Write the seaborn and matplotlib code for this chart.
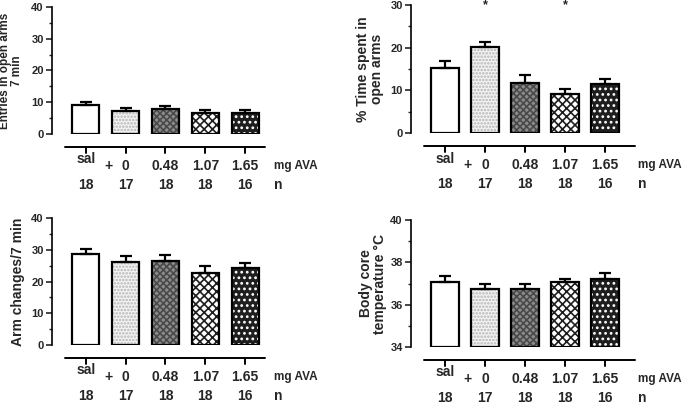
import numpy as np
import pandas as pd
import matplotlib
matplotlib.use('Agg')
import matplotlib.pyplot as plt
import matplotlib.transforms as mtransforms
from matplotlib.lines import Line2D
import seaborn as sns

# data (mean and upper SEM)
dose_labels = ['sal', '0', '0.48', '1.07', '1.65']
n_labels = ['18', '17', '18', '18', '16']

entries_mean = [9.1, 7.3, 7.8, 6.7, 6.5]
entries_sem = [1.1, 1.0, 1.1, 0.75, 0.9]

time_mean = [15.2, 20.2, 11.8, 9.1, 11.5]
time_sem = [1.7, 1.2, 1.8, 1.2, 1.2]
time_sig = [False, True, False, True, False]

arm_mean = [28.6, 26.0, 26.4, 22.8, 24.2]
arm_sem = [1.8, 2.0, 2.1, 2.1, 1.7]

temp_mean = [37.08, 36.72, 36.72, 37.07, 37.21]
temp_sem = [0.27, 0.26, 0.26, 0.13, 0.27]

# bar styles
face_colors = ['white', '#f3f3f3', '#8c8c8c', 'white', '#1e1e1e']
hatch_colors = ['white', '#b5b5b5', '#4a4a4a', '#1e1e1e', 'white']
hatches = ['', '.....', 'xxxxx', 'xxxx', '...']

sns.set_theme(style="ticks")
plt.rcParams['font.family'] = ['Liberation Sans', 'DejaVu Sans']
plt.rcParams['font.weight'] = 'bold'
plt.rcParams['hatch.linewidth'] = 1.2


def draw_panel(fig, rect, means, sems, ylim, yticks, minor, ylabel, label_x, label_size,
               xmax, unit_x, stars=None):
    ax = fig.add_axes(rect)
    df = pd.DataFrame({'dose': dose_labels, 'value': means})
    sns.barplot(data=df, x='dose', y='value', hue='dose', palette=face_colors,
                legend=False, errorbar=None, width=0.68, ax=ax)
    for p, hc, h in zip(ax.patches, hatch_colors, hatches):
        if ylim[0] > 0:
            p.set_y(ylim[0])
            p.set_height(p.get_height() - ylim[0])
        p.set_edgecolor(hc)
        p.set_linewidth(0)
        p.set_hatch(h)
        ax.add_patch(plt.Rectangle(p.get_xy(), p.get_width(), p.get_height(),
                                   fill=False, ec='black', lw=1.6, zorder=3))
    ax.errorbar(range(len(means)), means, yerr=[np.zeros(len(sems)), sems],
                fmt='none', ecolor='black', elinewidth=1.6, capsize=4.5, capthick=1.6, zorder=2)
    if stars is not None:
        for i, s in enumerate(stars):
            if s:
                ax.text(i, 1.0, '*', transform=ax.get_xaxis_transform(),
                        ha='center', va='center', fontsize=9)

    ax.set_xlim(-0.85, xmax)
    ax.set_ylim(*ylim)
    ax.set_yticks(yticks)
    ax.set_yticks(minor, minor=True)
    ax.tick_params(axis='y', which='major', length=4, width=1.2, labelsize=8, pad=2)
    ax.tick_params(axis='y', which='minor', length=2, width=1.0)
    ax.set_ylabel(ylabel, fontsize=label_size, fontweight='bold', linespacing=1.0)
    ax.yaxis.set_label_coords(label_x, 0.5)
    ax.set_xticks([])
    ax.set_xlabel('')
    sns.despine(ax=ax, bottom=True)
    ax.spines['left'].set_linewidth(1.2)
    ax.spines['left'].set_color('black')

    tr = ax.get_xaxis_transform()
    for i, (d, n) in enumerate(zip(dose_labels, n_labels)):
        dy = -0.2 if d == 'sal' else -0.25
        ax.text(i, dy, d, transform=tr, ha='center', va='center', fontsize=10)
        ax.text(i, -0.4, n, transform=tr, ha='center', va='center', fontsize=10)
    ax.text(0.56, -0.25, '+', transform=tr, ha='center', va='center', fontsize=10)
    ax.text(unit_x, -0.25, 'mg AVA', transform=tr, ha='left', va='center', fontsize=8.5)
    ax.text(unit_x, -0.4, 'n', transform=tr, ha='left', va='center', fontsize=10)

    # detached dose axis under the bars (x in data units, y in figure units)
    l, b, w, h = rect
    y_line = b - 13 / 407
    ftr = mtransforms.blended_transform_factory(ax.transData, fig.transFigure)
    fig.add_artist(Line2D([-0.53, xmax], [y_line, y_line], transform=ftr,
                          color='black', lw=1.4, zorder=20))
    for i in range(len(dose_labels)):
        fig.add_artist(Line2D([i, i], [y_line, y_line - 6 / 407], transform=ftr,
                              color='black', lw=1.4, zorder=20))
    return ax


fig = plt.figure(figsize=(6.85, 4.07), dpi=100)

draw_panel(fig, [0.0759, 0.671, 0.311, 0.312], entries_mean, entries_sem, (0, 40),
           [0, 10, 20, 30, 40], [5, 15, 25, 35],
           'Entries in open arms\n7 min', -0.136, 8.5, 4.5, 4.72)
draw_panel(fig, [0.600, 0.673, 0.327, 0.3145], time_mean, time_sem, (0, 30),
           [0, 10, 20, 30], [5, 15, 25],
           '% Time spent in\nopen arms', -0.12, 10, 4.75, 4.83, stars=time_sig)
draw_panel(fig, [0.0759, 0.1523, 0.311, 0.312], arm_mean, arm_sem, (0, 40),
           [0, 10, 20, 30, 40], [5, 15, 25, 35],
           'Arm changes/7 min', -0.127, 10, 4.5, 4.72)
draw_panel(fig, [0.600, 0.1474, 0.327, 0.312], temp_mean, temp_sem, (34, 40),
           [34, 36, 38, 40], [35, 37, 39],
           'Body core\ntemperature \u00b0C', -0.107, 10, 4.75, 4.83)

fig.savefig('out.png', dpi=100)
plt.close(fig)
